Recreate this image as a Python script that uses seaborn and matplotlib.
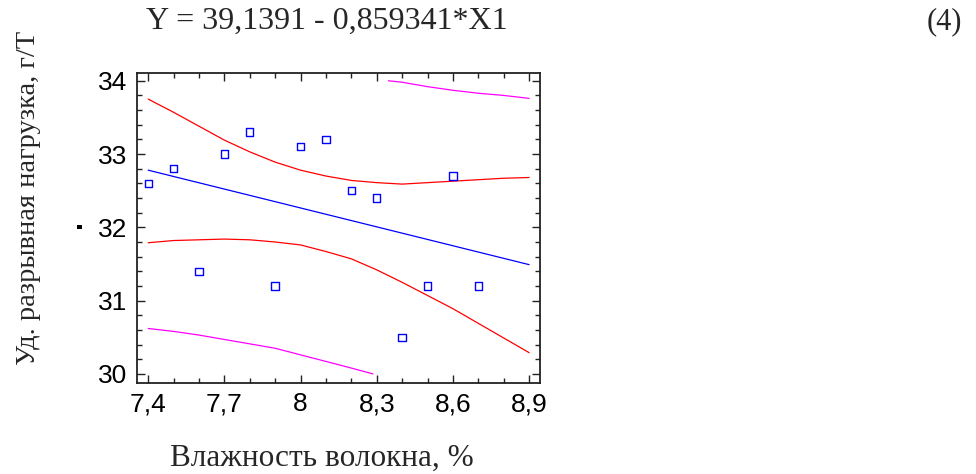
import matplotlib
matplotlib.use("Agg")
import matplotlib.pyplot as plt
import matplotlib.patches as mpatches
from matplotlib.ticker import FixedLocator, FixedFormatter, MultipleLocator
import seaborn as sns
import pandas as pd

# ---- data ----
moisture = [7.4, 7.5, 7.6, 7.7, 7.8, 7.9, 8.0, 8.1, 8.2, 8.3, 8.4, 8.5, 8.6, 8.7]
strength = [32.6, 32.8, 31.4, 33.0, 33.3, 31.2, 33.1, 33.2, 32.5, 32.4, 30.5, 31.2, 32.7, 31.2]

fit_x = [7.4, 8.9]
fit_y = [32.780, 31.491]

band_x = [7.4, 7.5, 7.6, 7.7, 7.8, 7.9, 8.0, 8.1, 8.2, 8.3, 8.4, 8.5, 8.6, 8.7, 8.8, 8.9]
conf_upper = [33.75, 33.57, 33.38, 33.19, 33.03, 32.89, 32.78, 32.70, 32.64, 32.61,
              32.59, 32.61, 32.63, 32.65, 32.67, 32.68]
conf_lower = [31.79, 31.82, 31.83, 31.84, 31.83, 31.80, 31.76, 31.67, 31.57, 31.42,
              31.25, 31.07, 30.89, 30.69, 30.49, 30.29]

pred_lower_x = [7.4, 7.5, 7.6, 7.7, 7.8, 7.9, 8.0, 8.1, 8.2, 8.285]
pred_lower = [30.62, 30.58, 30.53, 30.47, 30.41, 30.35, 30.26, 30.17, 30.08, 30.00]
pred_upper_x = [8.346, 8.4, 8.5, 8.6, 8.7, 8.8, 8.9]
pred_upper = [34.00, 33.98, 33.92, 33.87, 33.83, 33.80, 33.76]

x_ticks = [7.4, 7.7, 8.0, 8.3, 8.6, 8.9]
x_tick_labels = ["7,4", "7,7", "8", "8,3", "8,6", "8,9"]
y_ticks = [30, 31, 32, 33, 34]
y_tick_labels = ["30", "31", "32", "33", "34"]

title_text = "Y = 39,1391 - 0,859341*X1"
eq_number = "(4)"
x_label = "Влажность волокна, %"
y_label = "Уд. разрывная нагрузка, г/Т"

# ---- plotting ----
sns.set_style("ticks")
plt.rcParams["font.family"] = ["Liberation Sans", "DejaVu Sans"]

fig = plt.figure(figsize=(9.76, 4.74), dpi=100)
ax = fig.add_axes([0.1404, 0.1926, 0.4129, 0.654])

lw = 0.9
sns.lineplot(x=pred_lower_x, y=pred_lower, ax=ax, color="#ff00ff", lw=lw, sort=False)
sns.lineplot(x=pred_upper_x, y=pred_upper, ax=ax, color="#ff00ff", lw=lw, sort=False)
sns.lineplot(x=band_x, y=conf_upper, ax=ax, color="#ff0000", lw=lw, sort=False)
sns.lineplot(x=band_x, y=conf_lower, ax=ax, color="#ff0000", lw=lw, sort=False)
sns.lineplot(x=fit_x, y=fit_y, ax=ax, color="#0000ff", lw=lw, sort=False)
sns.scatterplot(x=moisture, y=strength, ax=ax, marker="s", s=28,
                facecolor="none", edgecolor="#0000ff", linewidth=1.0, zorder=5)

ax.set_xlim(7.356, 8.943)
ax.set_ylim(29.88, 34.11)

ax.xaxis.set_major_locator(FixedLocator(x_ticks))
ax.xaxis.set_major_formatter(FixedFormatter(x_tick_labels))
ax.xaxis.set_minor_locator(MultipleLocator(0.1))
ax.yaxis.set_major_locator(FixedLocator(y_ticks))
ax.yaxis.set_major_formatter(FixedFormatter(y_tick_labels))
ax.yaxis.set_minor_locator(MultipleLocator(0.2))

ax.tick_params(which="both", direction="in", top=True, right=True,
               colors="#222222", width=1.0, labelcolor="black")
ax.tick_params(which="major", length=5.5, labelsize=19, pad=7)
ax.tick_params(which="minor", length=3.5)
for sp in ax.spines.values():
    sp.set_visible(True)
    sp.set_linewidth(1.3)
    sp.set_color("#222222")

ax.set_xlabel("")
ax.set_ylabel("")

serif = ["Liberation Serif", "DejaVu Serif"]
fig.text(0.335, 0.954, title_text, family=serif, fontsize=23, ha="center", va="center")
fig.text(0.968, 0.954, eq_number, family=serif, fontsize=22, ha="center", va="center")
fig.text(0.330, 0.034, x_label, family=serif, fontsize=22.5, ha="center", va="center")
fig.text(0.029, 0.582, y_label, family=serif, fontsize=20.5, ha="center", va="center",
         rotation=90)

fig.add_artist(mpatches.Rectangle((77 / 976, 1 - 229 / 474), 5 / 976, 4 / 474,
                                  transform=fig.transFigure, color="black", lw=0))

fig.savefig("out.png", dpi=100)
